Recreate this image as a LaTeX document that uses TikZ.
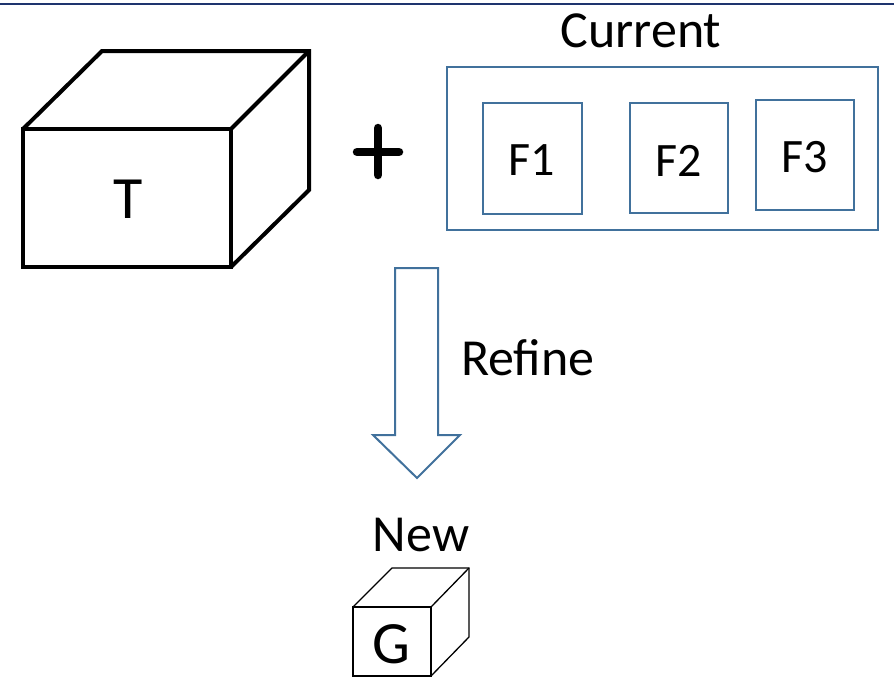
\documentclass[tikz,border=0pt]{standalone}
\usepackage{fontspec}
\setmainfont{Carlito}
\definecolor{boxblue}{RGB}{65,113,156}
\definecolor{rulenavy}{RGB}{30,52,110}
\begin{document}
\begin{tikzpicture}[x=1pt,y=-1pt,
  frame/.style={draw=boxblue, line width=2pt, outer sep=0pt, inner sep=0pt},
  bigcube/.style={draw=black, line width=4pt, line join=miter},
  smallcube/.style={draw=black, line width=1.3pt, line join=miter},
  face/.style={outer sep=0pt, inner sep=0pt},
  lbl/.style={anchor=base, inner sep=0pt, font=\fontsize{52}{62}\selectfont},
  flbl/.style={anchor=base, inner sep=0pt, font=\fontsize{48}{58}\selectfont},
  cubelbl/.style={anchor=base, inner sep=0pt, font=\fontsize{60}{72}\selectfont}]
\useasboundingbox (0,0) rectangle (894,678);
\clip (0,0) rectangle (894,678);

% header rule
\coordinate (ruleL) at (0,4);
\coordinate (ruleR) at (894,4);
\draw[rulenavy, line width=1.6pt] (ruleL) -- (ruleR);

% large cube T
\node[face, bigcube, minimum width=208pt, minimum height=138pt] (tface) at (127,198) {};
\draw[bigcube] (tface.north west) -- ++(79,-78) -- ++(207,0) -- ++(0,139) -- (tface.south east);
\draw[bigcube] (tface.north east) -- ++(78,-78);
\node[cubelbl] (tlbl) at (128,218) {T};

% plus sign
\coordinate (plusL) at (357,152);
\coordinate (plusR) at (399,152);
\coordinate (plusT) at (378,128);
\coordinate (plusB) at (378,175);
\draw[line width=8.5pt, line cap=round] (plusL) -- (plusR);
\draw[line width=8.5pt, line cap=round] (plusT) -- (plusB);

% current set of boxes
\node[frame, minimum width=431pt, minimum height=163pt] (current) at (662.5,148.5) {};
\node[lbl] (curlbl) at (641,47) {Current};
\node[frame, minimum width=99pt, minimum height=111pt] (f1) at (532.5,158.5) {};
\node[frame, minimum width=98pt, minimum height=110pt] (f2) at (679,158) {};
\node[frame, minimum width=98pt, minimum height=110pt] (f3) at (805,155) {};
\node[flbl] (f1lbl) at (532,175) {F1};
\node[flbl] (f2lbl) at (679,176) {F2};
\node[flbl] (f3lbl) at (805,172) {F3};

% refine block arrow
\draw[boxblue, line width=2pt, line join=miter, fill=white]
  (395,268) -- (438,268) -- (438,435) -- (460,435) -- (417,478)
  -- (373,435) -- (395,435) -- cycle;
\node[lbl, anchor=base west] (refine) at (461,375) {Refine};

% new small cube G
\node[lbl] (newlbl) at (421,551) {New};
\node[face, smallcube, minimum width=78pt, minimum height=69pt] (gface) at (392,641.5) {};
\draw[smallcube] (gface.north west) -- ++(39,-39) -- ++(77,0) -- ++(0,69) -- (gface.south east);
\draw[smallcube] (gface.north east) -- ++(38,-39);
\node[cubelbl] (glbl) at (391,663) {G};
\end{tikzpicture}
\end{document}
